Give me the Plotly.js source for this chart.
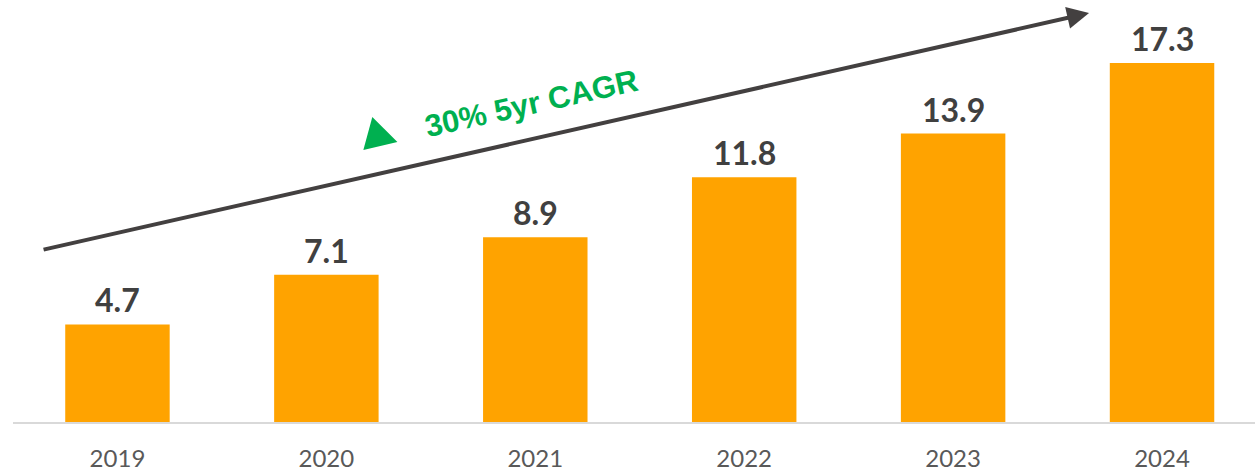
<!DOCTYPE html>
<html>
<head>
<meta charset="utf-8">
<script src="https://cdn.plot.ly/plotly-3.0.1.min.js"></script>
<style>html,body{margin:0;padding:0;background:#fff;}#chart{width:1255px;height:474px;}</style>
</head>
<body>
<div id="chart"></div>
<script>
const years = ["2019", "2020", "2021", "2022", "2023", "2024"];
const values = [4.7, 7.1, 8.9, 11.8, 13.9, 17.3];
const cagrLabel = "30% 5yr CAGR";

const trace = {
  type: "bar",
  x: years,
  y: values,
  marker: {color: "#FFA300"},
  width: 0.5,
  hoverinfo: "skip"
};

const valueLabels = years.map((yr, i) => ({
  xref: "x", yref: "y",
  x: i, y: values[i],
  xanchor: "center", yanchor: "bottom",
  yshift: 3,
  text: values[i].toFixed(1),
  showarrow: false,
  font: {family: "Lato", size: 32, color: "#404040", weight: 700}
}));

const layout = {
  width: 1255,
  height: 474,
  margin: {l: 12.5, r: 0, t: 0, b: 52, pad: 0},
  paper_bgcolor: "#ffffff",
  plot_bgcolor: "#ffffff",
  showlegend: false,
  xaxis: {
    type: "category",
    range: [-0.5, 5.445],
    showline: true,
    linecolor: "#d9d9d9",
    linewidth: 2,
    ticks: "",
    ticklabelstandoff: 14,
    tickfont: {family: "Lato", size: 24, color: "#595959"},
    showgrid: false,
    zeroline: false,
    fixedrange: true
  },
  yaxis: {
    range: [0, 20.34],
    visible: false,
    showgrid: false,
    zeroline: false,
    fixedrange: true
  },
  shapes: [
    {
      type: "path",
      xref: "paper", yref: "paper",
      path: "M 0.2893 0.7227 L 0.2821 0.6445 L 0.3095 0.6635 Z",
      fillcolor: "#00B050",
      line: {width: 0}
    }
  ],
  annotations: [
    {
      xref: "paper", yref: "paper",
      x: 0.8664, y: 0.9692,
      ax: -1047, ay: 237,
      text: "",
      showarrow: true,
      arrowhead: 2,
      arrowsize: 1.1,
      arrowwidth: 4,
      arrowcolor: "#434040"
    },
    {
      xref: "paper", yref: "paper",
      x: 0.4173, y: 0.7536,
      xanchor: "center", yanchor: "middle",
      text: cagrLabel,
      showarrow: false,
      textangle: -12.5,
      font: {family: "Liberation Sans", size: 31, color: "#00B050", weight: 700}
    }
  ].concat(valueLabels)
};

Plotly.newPlot("chart", [trace], layout, {staticPlot: true, displayModeBar: false});
</script>
</body>
</html>
